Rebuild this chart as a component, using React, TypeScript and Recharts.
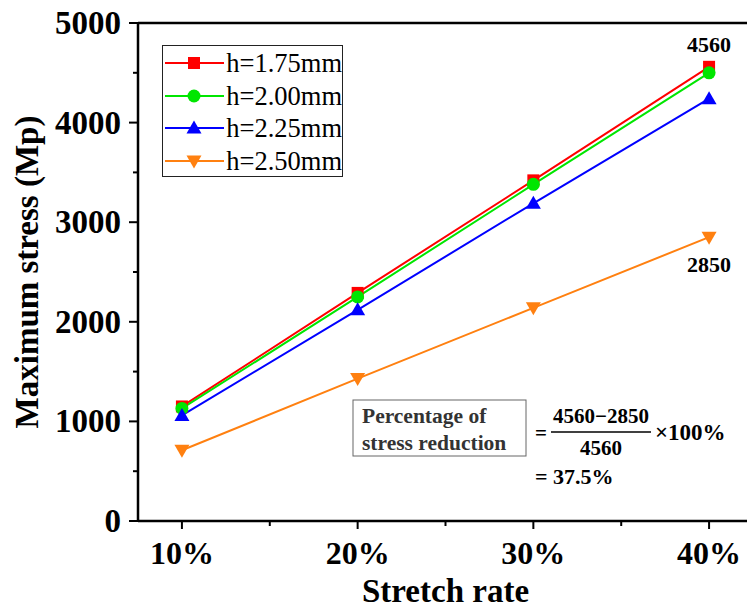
import React from "react";
import {
  LineChart,
  Line,
  XAxis,
  YAxis,
  Legend,
  ReferenceLine,
} from "recharts";

// Maximum stress vs stretch rate for four plate thicknesses.
const STRETCH = [10, 20, 30, 40];
const H175 = [1150, 2290, 3420, 4560];
const H200 = [1130, 2250, 3380, 4500];
const H225 = [1060, 2120, 3190, 4240];
const H250 = [710, 1430, 2140, 2850];

const X_TICKS = [10, 15, 20, 25, 30, 35, 40];
const Y_TICKS = [0, 500, 1000, 1500, 2000, 2500, 3000, 3500, 4000, 4500, 5000];

const SERIES = [
  { key: "h175", name: "h=1.75mm", color: "#ff0000", shape: "square" },
  { key: "h200", name: "h=2.00mm", color: "#00e600", shape: "circle" },
  { key: "h225", name: "h=2.25mm", color: "#0000ff", shape: "up" },
  { key: "h250", name: "h=2.50mm", color: "#ff8010", shape: "down" },
];

const FONT = "'Liberation Serif', 'Times New Roman', serif";

const data = STRETCH.map((s, i) => ({
  rate: s,
  h175: H175[i],
  h200: H200[i],
  h225: H225[i],
  h250: H250[i],
}));

function Marker({ cx, cy, shape, color }: any) {
  if (cx == null || cy == null) return null;
  if (shape === "square")
    return <rect x={cx - 6} y={cy - 6} width={12} height={12} fill={color} />;
  if (shape === "circle") return <circle cx={cx} cy={cy} r={6.5} fill={color} />;
  if (shape === "up")
    return (
      <polygon
        points={`${cx},${cy - 7.5} ${cx - 7.5},${cy + 5.5} ${cx + 7.5},${cy + 5.5}`}
        fill={color}
      />
    );
  return (
    <polygon
      points={`${cx},${cy + 7.5} ${cx - 7.5},${cy - 5.5} ${cx + 7.5},${cy - 5.5}`}
      fill={color}
    />
  );
}

function XTick({ x, y, payload }: any) {
  const major = payload.value % 10 === 0;
  return (
    <g>
      <line x1={x} x2={x} y1={y} y2={y + (major ? 8 : 5)} stroke="#000" strokeWidth={2} />
      {major && (
        <text
          x={x}
          y={y + 43}
          textAnchor="middle"
          fontFamily={FONT}
          fontWeight="bold"
          fontSize={32}
          fill="#000"
        >
          {payload.value}%
        </text>
      )}
    </g>
  );
}

function YTick({ x, y, payload }: any) {
  const major = payload.value % 1000 === 0;
  return (
    <g>
      <line x1={x} x2={x - (major ? 9 : 5)} y1={y} y2={y} stroke="#000" strokeWidth={2} />
      {major && (
        <text
          x={x - 17}
          y={y + 11}
          textAnchor="end"
          fontFamily={FONT}
          fontWeight="bold"
          fontSize={33}
          fill="#000"
        >
          {payload.value}
        </text>
      )}
    </g>
  );
}

function LegendBox() {
  return (
    <div
      style={{
        border: "1.5px solid #222",
        background: "#fff",
        width: 179,
        height: 129,
        paddingTop: 1,
        boxSizing: "content-box",
      }}
    >
      {SERIES.map((s) => (
        <div
          key={s.key}
          style={{ display: "flex", alignItems: "center", height: 32.5 }}
        >
          <svg width={64} height={20} style={{ marginLeft: 1 }}>
            <line x1={1} x2={60} y1={10} y2={10} stroke={s.color} strokeWidth={2} />
            <Marker cx={30} cy={10} shape={s.shape} color={s.color} />
          </svg>
          <span
            style={{
              fontFamily: FONT,
              fontSize: 26.5,
              color: "#000",
              marginLeft: 0,
              lineHeight: 1,
            }}
          >
            {s.name}
          </span>
        </div>
      ))}
    </div>
  );
}

function EndLabel({ text, dy }: { text: string; dy: number }) {
  return (props: any) => {
    if (props.index !== STRETCH.length - 1) return <g key={props.index} />;
    return (
      <text
        key={props.index}
        x={props.x}
        y={props.y + dy}
        textAnchor="middle"
        fontFamily={FONT}
        fontWeight="bold"
        fontSize={22}
        fill="#000"
      >
        {text}
      </text>
    );
  };
}

export default function App() {
  return (
    <div
      style={{
        position: "absolute",
        left: 0,
        top: 0,
        width: 747,
        height: 608,
        overflow: "hidden",
        background: "#fff",
      }}
    >
      <LineChart
        width={760}
        height={608}
        data={data}
        margin={{ top: 23, right: 7, bottom: 27, left: 0 }}
      >
        <XAxis
          dataKey="rate"
          type="number"
          domain={[7.5, 42.5]}
          ticks={X_TICKS}
          allowDataOverflow
          height={60}
          tickSize={0}
          tickMargin={0}
          tickLine={false}
          axisLine={{ stroke: "#000", strokeWidth: 2.5 }}
          tick={<XTick />}
          interval={0}
          label={{
            content: ({ viewBox }: any) => (
              <text
                x={viewBox.x + viewBox.width / 2}
                y={viewBox.y + 81}
                textAnchor="middle"
                fontFamily={FONT}
                fontWeight="bold"
                fontSize={33}
                fill="#000"
              >
                Stretch rate
              </text>
            ),
          }}
        />
        <YAxis
          type="number"
          domain={[0, 5000]}
          ticks={Y_TICKS}
          width={138}
          tickSize={0}
          tickMargin={0}
          tickLine={false}
          axisLine={{ stroke: "#000", strokeWidth: 2.5 }}
          tick={<YTick />}
          interval={0}
          label={{
            content: ({ viewBox }: any) => {
              const cx = viewBox.x + 38;
              const cy = viewBox.y + viewBox.height / 2;
              return (
                <text
                  x={cx}
                  y={cy}
                  transform={`rotate(-90, ${cx}, ${cy})`}
                  textAnchor="middle"
                  fontFamily={FONT}
                  fontWeight="bold"
                  fontSize={33}
                  fill="#000"
                >
                  Maximum stress (Mp)
                </text>
              );
            },
          }}
        />
        <ReferenceLine y={5000} stroke="#000" strokeWidth={2.5} />
        {SERIES.map((s) => (
          <Line
            key={s.key}
            dataKey={s.key}
            name={s.name}
            stroke={s.color}
            strokeWidth={2}
            isAnimationActive={false}
            dot={(p: any) => (
              <Marker key={p.index} cx={p.cx} cy={p.cy} shape={s.shape} color={s.color} />
            )}
            activeDot={false}
            label={
              s.key === "h175"
                ? EndLabel({ text: "4560", dy: -15 })
                : s.key === "h250"
                ? EndLabel({ text: "2850", dy: 35 })
                : false
            }
          />
        ))}
        <Legend
          layout="vertical"
          align="center"
          verticalAlign="middle"
          content={() => <LegendBox />}
          wrapperStyle={{ left: 162, top: 45, width: "auto" }}
        />
      </LineChart>
      <svg
        width={747}
        height={608}
        style={{ position: "absolute", left: 0, top: 0, pointerEvents: "none" }}
      >
        <rect x={353} y={400} width={173} height={56} fill="#fff" stroke="#666" strokeWidth={1} />
        <g fontFamily={FONT} fontWeight="bold" fontSize={21.5} fill="#333">
          <text x={362} y={423}>Percentage of</text>
          <text x={362} y={450}>stress reduction</text>
        </g>
        <g fontFamily={FONT} fontWeight="bold" fontSize={21} fill="#000">
          <text x={535} y={440}>=</text>
          <text x={601} y={423} textAnchor="middle">4560−2850</text>
          <line x1={551} x2={651} y1={432} y2={432} stroke="#000" strokeWidth={1.5} />
          <text x={601} y={455} textAnchor="middle">4560</text>
          <text x={655} y={440} fontSize={23}>×100%</text>
          <text x={535} y={484} fontSize={22}>= 37.5%</text>
        </g>
      </svg>
    </div>
  );
}
